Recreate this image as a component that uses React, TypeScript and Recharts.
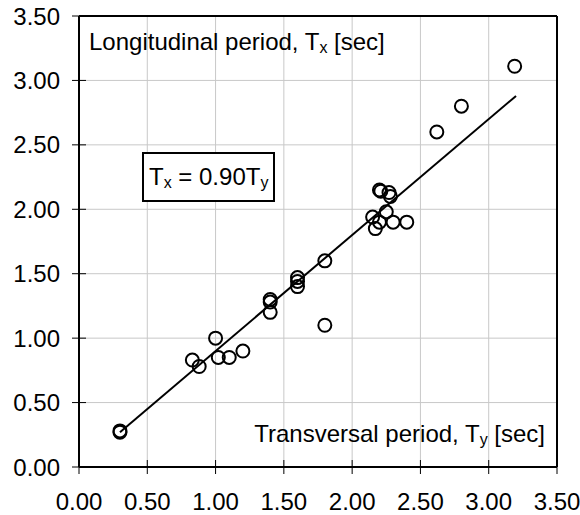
import React from "react";
import {
  ScatterChart,
  Scatter,
  XAxis,
  YAxis,
  CartesianGrid,
  ReferenceLine,
  Customized,
} from "recharts";

const tyValues = [0.30, 0.30, 0.83, 0.88, 1.00, 1.02, 1.10, 1.20, 1.40, 1.40, 1.40, 1.60, 1.60, 1.60, 1.80, 1.80, 2.15, 2.17, 2.20, 2.20, 2.21, 2.25, 2.27, 2.28, 2.30, 2.40, 2.62, 2.80, 3.19];
const txValues = [0.27, 0.28, 0.83, 0.78, 1.00, 0.85, 0.85, 0.90, 1.28, 1.30, 1.20, 1.47, 1.44, 1.40, 1.60, 1.10, 1.94, 1.85, 1.90, 2.15, 2.14, 1.98, 2.13, 2.10, 1.90, 1.90, 2.60, 2.80, 3.11];
const fitLineX = [0.30, 3.20];
const fitLineY = [0.27, 2.88];
const axisTicks = [0, 0.5, 1.0, 1.5, 2.0, 2.5, 3.0, 3.5];

const points = tyValues.map((x, i) => ({ x, y: txValues[i] }));
const fitData = fitLineX.map((x, i) => ({ x, y: fitLineY[i] }));

const FONT = "'Liberation Sans', Arial, sans-serif";
const FS = 24;
const SUB = 16;
const TICK_SIZE = 7;
const X_MARGIN = 19;
const Y_MARGIN = 12;

const XTick = (props: any) => {
  const { x, y, payload } = props;
  const axisY = y - X_MARGIN - TICK_SIZE;
  return (
    <g>
      <line x1={x} x2={x} y1={axisY - TICK_SIZE} y2={axisY} stroke="#000" strokeWidth={1} />
      <text x={x} y={y} dy="0.71em" textAnchor="middle" fontSize={FS} fontFamily={FONT} fill="#000">
        {Number(payload.value).toFixed(2)}
      </text>
    </g>
  );
};

const YTick = (props: any) => {
  const { x, y, payload } = props;
  const axisX = x + Y_MARGIN + TICK_SIZE;
  return (
    <g>
      <line x1={axisX} x2={axisX + TICK_SIZE} y1={y} y2={y} stroke="#000" strokeWidth={1} />
      <text x={x} y={y} dy="0.355em" textAnchor="end" fontSize={FS} fontFamily={FONT} fill="#000">
        {Number(payload.value).toFixed(2)}
      </text>
    </g>
  );
};

const Circle = (props: any) => {
  const { cx, cy } = props;
  return <circle cx={cx} cy={cy} r={6.5} fill="none" stroke="#000" strokeWidth={2} />;
};

const Annotations = () => (
  <g fontFamily={FONT} fill="#000">
    <text x={89} y={50} fontSize={FS}>
      Longitudinal period, T
      <tspan fontSize={SUB} dy={3}>x</tspan>
      <tspan dy={-3}> [sec]</tspan>
    </text>
    <rect x={143} y={153} width={131} height={48} fill="#fff" stroke="#000" strokeWidth={2} />
    <text x={149} y={185} fontSize={FS}>
      T<tspan fontSize={SUB} dy={3}>x</tspan>
      <tspan dy={-3}> = 0.90T</tspan>
      <tspan fontSize={SUB} dy={3}>y</tspan>
    </text>
    <text x={545} y={442} fontSize={FS} textAnchor="end">
      Transversal period, T
      <tspan fontSize={SUB} dy={3}>y</tspan>
      <tspan dy={-3}> [sec]</tspan>
    </text>
  </g>
);

export default function App() {
  return (
    <div style={{ position: "absolute", left: 0, top: 0, width: 580, height: 515, background: "#fff" }}>
      <ScatterChart width={580} height={515} margin={{ top: 16, right: 23, left: 0, bottom: 0 }}>
        <CartesianGrid stroke="#c8c8c8" strokeWidth={1} />
        <XAxis
          type="number"
          dataKey="x"
          domain={[0, 3.5]}
          ticks={axisTicks}
          height={48}
          axisLine={{ stroke: "#000", strokeWidth: 2 }}
          tickLine={{ stroke: "#000", strokeWidth: 1 }}
          tickSize={TICK_SIZE}
          tickMargin={X_MARGIN}
          tick={XTick}
          interval={0}
          allowDataOverflow
        />
        <YAxis
          type="number"
          dataKey="y"
          domain={[0, 3.5]}
          ticks={axisTicks}
          width={79}
          axisLine={{ stroke: "#000", strokeWidth: 2 }}
          tickLine={{ stroke: "#000", strokeWidth: 1 }}
          tickSize={TICK_SIZE}
          tickMargin={Y_MARGIN}
          tick={YTick}
          interval={0}
          allowDataOverflow
        />
        <ReferenceLine y={3.5} stroke="#000" strokeWidth={2} />
        <ReferenceLine x={3.5} stroke="#000" strokeWidth={2} />
        <Scatter
          data={fitData}
          line={{ stroke: "#000", strokeWidth: 2 }}
          shape={() => <g />}
          isAnimationActive={false}
        />
        <Scatter data={points} shape={Circle} isAnimationActive={false} />
        <Customized component={Annotations} />
      </ScatterChart>
    </div>
  );
}
